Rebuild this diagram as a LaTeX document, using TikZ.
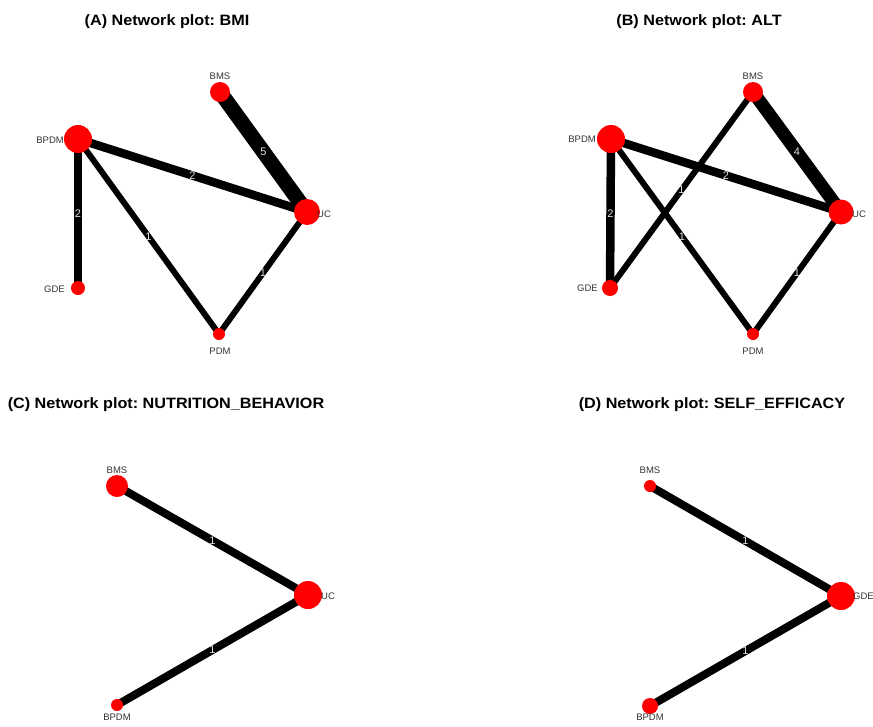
\documentclass[tikz,border=0pt]{standalone}
\usepackage{fontspec}
\setmainfont{Liberation Sans}
\usetikzlibrary{backgrounds}
\begin{document}
\frenchspacing
\begin{tikzpicture}[x=1pt,y=-1pt,
 nd/.style={circle,fill=red,inner sep=0pt,minimum size=#1},
 lab/.style={text=black!80,font=\fontsize{9.5}{10}\selectfont,inner sep=0pt},
 ttl/.style={font=\bfseries\fontsize{15}{16}\selectfont,inner sep=0pt,xscale=1.08},
 ed/.style={line width=#1,black},
 el/.style={midway,text=black!12,font=\fontsize{11}{11}\selectfont,inner sep=0pt}]
\path[use as bounding box] (0,0) rectangle (873,726);

% titles
\node[ttl] (tA) at (167,22) {(A) Network plot: BMI};
\node[ttl] (tB) at (699,22) {(B) Network plot: ALT};
\node[ttl] (tC) at (166,405) {(C) Network plot: NUTRITION\_BEHAVIOR};
\node[ttl] (tD) at (712,405) {(D) Network plot: SELF\_EFFICACY};

% ---------- Panel A ----------
\node[nd=20pt] (aBMS) at (220,92) {};
\node[nd=28pt] (aBPDM) at (78,139) {};
\node[nd=26pt] (aUC) at (307,212) {};
\node[nd=14pt] (aGDE) at (78,288) {};
\node[nd=12pt] (aPDM) at (219,334) {};
\node[lab] (laBMS) at (220,76) {BMS};
\node[lab,anchor=east] (laBPDM) at (64,140) {BPDM};
\node[lab,anchor=west] (laUC) at (317,214) {UC};
\node[lab,anchor=east] (laGDE) at (65,289) {GDE};
\node[lab] (laPDM) at (220,351) {PDM};
\begin{scope}[on background layer]
\draw[ed=15pt] (aBMS.center) -- (aUC.center) node[el] {5};
\draw[ed=8.5pt] (aBPDM.center) -- (aUC.center) node[el] {2};
\draw[ed=8.5pt] (aBPDM.center) -- (aGDE.center) node[el] {2};
\draw[ed=6pt] (aBPDM.center) -- (aPDM.center) node[el] {1};
\draw[ed=6pt] (aUC.center) -- (aPDM.center) node[el] {1};
\end{scope}

% ---------- Panel B ----------
\node[nd=20pt] (bBMS) at (753,92) {};
\node[nd=28pt] (bBPDM) at (611,139) {};
\node[nd=25pt] (bUC) at (841,212) {};
\node[nd=16pt] (bGDE) at (610,288) {};
\node[nd=12pt] (bPDM) at (753,334) {};
\node[lab] (lbBMS) at (753,76) {BMS};
\node[lab,anchor=east] (lbBPDM) at (596,139) {BPDM};
\node[lab,anchor=west] (lbUC) at (852,214) {UC};
\node[lab,anchor=east] (lbGDE) at (598,288) {GDE};
\node[lab] (lbPDM) at (753,351) {PDM};
\begin{scope}[on background layer]
\draw[ed=13pt] (bBMS.center) -- (bUC.center) node[el] {4};
\draw[ed=8.5pt] (bBPDM.center) -- (bUC.center) node[el] {2};
\draw[ed=8.5pt] (bBPDM.center) -- (bGDE.center) node[el] {2};
\draw[ed=6pt] (bBMS.center) -- (bGDE.center) node[el] {1};
\draw[ed=6pt] (bBPDM.center) -- (bPDM.center) node[el] {1};
\draw[ed=6pt] (bUC.center) -- (bPDM.center) node[el] {1};
\end{scope}

% ---------- Panel C ----------
\node[nd=22pt] (cBMS) at (117,486) {};
\node[nd=28pt] (cUC) at (308,595) {};
\node[nd=12pt] (cBPDM) at (117,705) {};
\node[lab] (lcBMS) at (117,470) {BMS};
\node[lab,anchor=west] (lcUC) at (321,596) {UC};
\node[lab] (lcBPDM) at (117,717) {BPDM};
\begin{scope}[on background layer]
\draw[ed=8pt] (cBMS.center) -- (cUC.center) node[el] {1};
\draw[ed=8pt] (cBPDM.center) -- (cUC.center) node[el] {1};
\end{scope}

% ---------- Panel D ----------
\node[nd=12pt] (dBMS) at (650,486) {};
\node[nd=28pt] (dGDE) at (841,596) {};
\node[nd=16pt] (dBPDM) at (650,706) {};
\node[lab] (ldBMS) at (650,470) {BMS};
\node[lab,anchor=west] (ldGDE) at (853,596) {GDE};
\node[lab] (ldBPDM) at (650,717) {BPDM};
\begin{scope}[on background layer]
\draw[ed=8pt] (dBMS.center) -- (dGDE.center) node[el] {1};
\draw[ed=8pt] (dBPDM.center) -- (dGDE.center) node[el] {1};
\end{scope}
\end{tikzpicture}
\end{document}
